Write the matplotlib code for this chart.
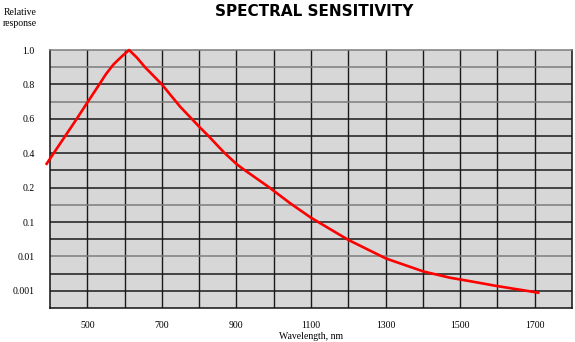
import numpy as np
import matplotlib
matplotlib.use('Agg')
import matplotlib.pyplot as plt

# ---- data ----
wavelength_nm = [389, 400, 470, 500, 528, 550, 570, 592, 612, 633, 655, 700, 749,
                 780, 802, 825, 867, 901, 923, 986, 1044, 1100, 1200, 1301, 1402,
                 1473, 1527, 1598, 1713]
relative_response = [0.316, 0.358, 0.593, 0.687, 0.784, 0.855, 0.910, 0.958, 1.0,
                     0.952, 0.894, 0.80, 0.664, 0.60, 0.542, 0.490, 0.403, 0.320,
                     0.283, 0.203, 0.146, 0.109, 0.0302, 0.0087, 0.00363, 0.0024,
                     0.0019, 0.00138, 0.00087]
y_tick_values = [0.001, 0.01, 0.1, 0.2, 0.4, 0.6, 0.8, 1.0]
y_tick_labels = ['0.001', '0.01', '0.1', '0.2', '0.4', '0.6', '0.8', '1.0']
x_tick_values = [500, 700, 900, 1100, 1300, 1500, 1700]
x_tick_labels = ['500', '700', '900', '1100', '1300', '1500', '1700']

LOGV = np.log10(y_tick_values)
POS = np.arange(len(y_tick_values), dtype=float)


def forward(v):
    lv = np.log10(np.clip(np.asarray(v, dtype=float), 1e-12, None))
    p = np.interp(lv, LOGV, POS)
    p = np.where(lv < LOGV[0], (lv - LOGV[0]) / (LOGV[1] - LOGV[0]), p)
    p = np.where(lv > LOGV[-1], POS[-1] + (lv - LOGV[-1]) / (LOGV[-1] - LOGV[-2]), p)
    return p


def inverse(p):
    p = np.asarray(p, dtype=float)
    lv = np.interp(p, POS, LOGV)
    lv = np.where(p < 0, LOGV[0] + p * (LOGV[1] - LOGV[0]), lv)
    lv = np.where(p > POS[-1], LOGV[-1] + (p - POS[-1]) * (LOGV[-1] - LOGV[-2]), lv)
    return 10 ** lv


W, H = 575, 342
fig = plt.figure(figsize=(W / 100, H / 100), dpi=100)
fig.patch.set_facecolor('white')
ax = fig.add_axes([50 / W, (H - 308) / H, 522 / W, 258 / H])
ax.set_facecolor('#d7d7d7')
ax.set_yscale('function', functions=(forward, inverse))
ax.set_xlim(400, 1800)
ax.set_ylim(float(inverse(-0.5)), 1.0)

serif = ['Liberation Serif', 'DejaVu Serif']

# x ticks / vertical grid
ax.set_xticks(x_tick_values)
ax.set_xticklabels(x_tick_labels, family=serif, fontsize=7)
ax.set_xticks(np.arange(600, 1700, 200), minor=True)
ax.grid(True, axis='x', which='both', color='#1a1a1a', lw=1.0)
ax.tick_params(axis='x', which='both', length=0, pad=9)

# y ticks
ax.set_yticks(y_tick_values)
ax.set_yticklabels(y_tick_labels, family=serif, fontsize=7)
ax.yaxis.set_minor_locator(matplotlib.ticker.NullLocator())
ax.tick_params(axis='y', which='both', length=0, pad=11)

# horizontal grid (alternating dark / grey as in the reference)
line_colors_top_down = ['g', 'g', 'k', 'g', 'k', 'k', 'k', 'k', 'k', 'g', 'k', 'k', 'g', 'k', 'k', 'k']
for k in range(1, 15):
    yv = float(inverse(POS[-1] - 0.5 * k))
    c = '#1a1a1a' if line_colors_top_down[k] == 'k' else '#7c7c7c'
    ax.axhline(yv, color=c, lw=1.1, zorder=1)

ax.set_axisbelow(True)
for s in ['left', 'bottom', 'right']:
    ax.spines[s].set_color('#111111')
    ax.spines[s].set_linewidth(1.1)
ax.spines['top'].set_color('#7c7c7c')
ax.spines['top'].set_linewidth(1.1)

ax.plot(wavelength_nm, relative_response, color='#ff0000', lw=1.9, zorder=5,
        clip_on=False, solid_capstyle='butt', solid_joinstyle='round')

ax.set_xlabel('Wavelength, nm', family=serif, fontsize=7, labelpad=2)

fig.text(314 / W, 1 - 11 / H, 'SPECTRAL SENSITIVITY', ha='center', va='center',
         fontsize=11, fontweight='bold', family='DejaVu Sans')
fig.text(37 / W, 1 - 18 / H, 'Relative\nresponse', ha='right', va='center',
         family=serif, fontsize=7, linespacing=1.25)

fig.savefig('out.png', dpi=100)
